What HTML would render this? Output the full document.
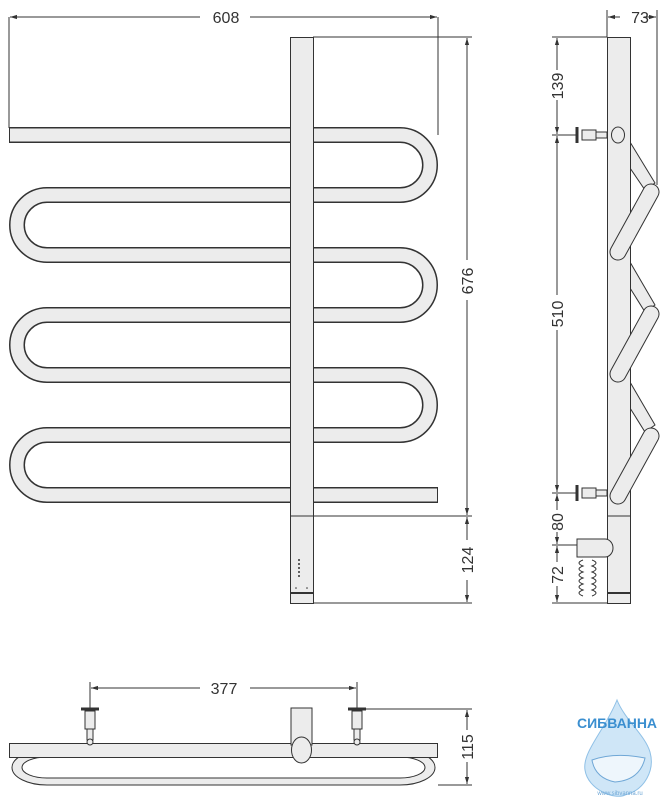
<!DOCTYPE html>
<html><head><meta charset="utf-8"><style>html,body{margin:0;padding:0;background:#fff}svg{display:block}</style></head><body>
<svg width="668" height="800" viewBox="0 0 668 800" xmlns="http://www.w3.org/2000/svg" font-family="Liberation Sans, sans-serif">
<defs>
<marker id="a" viewBox="0 0 10 10" refX="10" refY="5" markerWidth="7" markerHeight="7" orient="auto-start-reverse"><path d="M0 2L10 5L0 8z" fill="#333"/></marker>
</defs>
<g stroke="#333" stroke-width="1" fill="none">
<line x1="9" y1="17" x2="9" y2="128"/><line x1="438" y1="17" x2="438" y2="135"/>
<line x1="10" y1="17" x2="200" y2="17" marker-start="url(#a)"/><line x1="250" y1="17" x2="437" y2="17" marker-end="url(#a)"/>
<line x1="313" y1="37" x2="472" y2="37"/><line x1="313" y1="516" x2="472" y2="516"/><line x1="313" y1="603" x2="472" y2="603"/>
<line x1="467" y1="38" x2="467" y2="260" marker-start="url(#a)"/><line x1="467" y1="300" x2="467" y2="515" marker-end="url(#a)"/>
<line x1="467" y1="517" x2="467" y2="540" marker-start="url(#a)"/><line x1="467" y1="580" x2="467" y2="602" marker-end="url(#a)"/>
<line x1="607" y1="10" x2="607" y2="37"/><line x1="657" y1="10" x2="657" y2="185"/>
<line x1="608" y1="17" x2="620" y2="17" marker-start="url(#a)"/><line x1="644" y1="17" x2="656" y2="17" marker-end="url(#a)"/>
<line x1="552" y1="37" x2="607" y2="37"/><line x1="552" y1="135" x2="578" y2="135"/><line x1="552" y1="493" x2="578" y2="493"/><line x1="552" y1="545" x2="578" y2="545"/><line x1="552" y1="603" x2="607" y2="603"/>
<line x1="557" y1="38" x2="557" y2="70" marker-start="url(#a)"/><line x1="557" y1="100" x2="557" y2="134" marker-end="url(#a)"/>
<line x1="557" y1="136" x2="557" y2="295" marker-start="url(#a)"/><line x1="557" y1="330" x2="557" y2="492" marker-end="url(#a)"/>
<line x1="557" y1="494" x2="557" y2="510" marker-start="url(#a)"/><line x1="557" y1="532" x2="557" y2="544" marker-end="url(#a)"/>
<line x1="557" y1="546" x2="557" y2="562" marker-start="url(#a)"/><line x1="557" y1="586" x2="557" y2="602" marker-end="url(#a)"/>
<line x1="90" y1="682" x2="90" y2="708"/><line x1="357" y1="682" x2="357" y2="708"/>
<line x1="91" y1="688" x2="200" y2="688" marker-start="url(#a)"/><line x1="250" y1="688" x2="356" y2="688" marker-end="url(#a)"/>
<line x1="365" y1="709" x2="472" y2="709"/><line x1="438" y1="785" x2="472" y2="785"/>
<line x1="467" y1="710" x2="467" y2="730" marker-start="url(#a)"/><line x1="467" y1="762" x2="467" y2="784" marker-end="url(#a)"/>
</g>
<g fill="#333" font-size="16">
<text x="226" y="23" text-anchor="middle">608</text>
<text x="640" y="23" text-anchor="middle">73</text>
<text x="224" y="694" text-anchor="middle">377</text>
<text transform="translate(473,281) rotate(-90)" text-anchor="middle">676</text>
<text transform="translate(473,560) rotate(-90)" text-anchor="middle">124</text>
<text transform="translate(563,86) rotate(-90)" text-anchor="middle">139</text>
<text transform="translate(563,314) rotate(-90)" text-anchor="middle">510</text>
<text transform="translate(563,522) rotate(-90)" text-anchor="middle">80</text>
<text transform="translate(563,575) rotate(-90)" text-anchor="middle">72</text>
<text transform="translate(473,747) rotate(-90)" text-anchor="middle">115</text>
</g>
<path d="M9 135H400A30 30 0 0 1 400 195H47A30 30 0 0 0 47 255H400A30 30 0 0 1 400 315H47A30 30 0 0 0 47 375H400A30 30 0 0 1 400 435H47A30 30 0 0 0 47 495H438" fill="none" stroke="#333" stroke-width="16"/>
<path d="M10 135H400A30 30 0 0 1 400 195H47A30 30 0 0 0 47 255H400A30 30 0 0 1 400 315H47A30 30 0 0 0 47 375H400A30 30 0 0 1 400 435H47A30 30 0 0 0 47 495H437" fill="none" stroke="#ececec" stroke-width="13"/>
<rect x="290.5" y="37.5" width="23" height="566" fill="#ececec" stroke="#333"/>
<line x1="290" y1="516" x2="313" y2="516" stroke="#333"/><line x1="290" y1="593" x2="313" y2="593" stroke="#333" stroke-width="2"/>
<g fill="#333"><circle cx="299" cy="560" r="1"/><circle cx="299" cy="564" r="1"/><circle cx="299" cy="568" r="1"/><circle cx="299" cy="572" r="1"/><circle cx="299" cy="576" r="1"/><circle cx="296" cy="588" r="0.8"/><circle cx="307" cy="588" r="0.8"/></g>
<g stroke="#333" fill="#ececec">
<path d="M630 142L655 183L645 190L630 168Z"/>
<path d="M630 262L655 305L645 312L630 288Z"/>
<path d="M630 382L655 425L645 432L630 408Z"/>
</g>
<rect x="607.5" y="37.5" width="23" height="566" fill="#ececec" stroke="#333"/>
<line x1="607" y1="516" x2="630" y2="516" stroke="#333"/><line x1="607" y1="593" x2="630" y2="593" stroke="#333" stroke-width="2"/>
<g stroke-linecap="round" fill="none">
<path d="M651 192L618 252" stroke="#333" stroke-width="17"/><path d="M651 192L618 252" stroke="#ececec" stroke-width="15"/>
<path d="M651 314L618 374" stroke="#333" stroke-width="17"/><path d="M651 314L618 374" stroke="#ececec" stroke-width="15"/>
<path d="M651 436L618 496" stroke="#333" stroke-width="17"/><path d="M651 436L618 496" stroke="#ececec" stroke-width="15"/>
</g>
<ellipse cx="618" cy="135" rx="6.5" ry="8" fill="#ececec" stroke="#333"/>
<g fill="#ececec" stroke="#333">
<rect x="582" y="130" width="14" height="10"/><rect x="596" y="132" width="11" height="6"/><line x1="577" y1="127" x2="577" y2="143" stroke-width="3"/>
<rect x="582" y="488" width="14" height="10"/><rect x="596" y="490" width="11" height="6"/><line x1="577" y1="485" x2="577" y2="501" stroke-width="3"/>
<path d="M577 539H605A8 9 0 0 1 605 557H577Z"/>
<path d="M583 560q-8 3 0 6q-8 3 0 6q-8 3 0 6q-8 3 0 6q-8 3 0 6q-8 3 0 6M592 560q8 3 0 6q8 3 0 6q8 3 0 6q8 3 0 6q8 3 0 6q8 3 0 6" fill="none"/>
</g>
<g stroke="#333" fill="#ececec">
<path d="M47 750H400A35 17.5 0 0 1 400 785H47A35 17.5 0 0 1 47 750Z"/>
<path d="M47 757H400A25 10.5 0 0 1 400 778H47A25 10.5 0 0 1 47 757Z" fill="#fff"/>
<rect x="9.5" y="743.5" width="428" height="14"/>
<rect x="291" y="708" width="21" height="37"/>
<ellipse cx="301.5" cy="750" rx="10" ry="13"/>
<rect x="85" y="711" width="10" height="18"/><rect x="87" y="729" width="6" height="11"/><circle cx="90" cy="742" r="3"/><line x1="81" y1="709" x2="99" y2="709" stroke-width="3"/>
<rect x="352" y="711" width="10" height="18"/><rect x="354" y="729" width="6" height="11"/><circle cx="357" cy="742" r="3"/><line x1="348" y1="709" x2="366" y2="709" stroke-width="3"/>
</g>
<path d="M617 700C605 730 582 752 585 770C588 790 615 800 625 795C645 790 655 770 650 752C645 735 625 720 617 700Z" fill="#cfe6f7" stroke="#8fc0e6"/>
<path d="M592 760Q615 752 645 758Q640 780 615 782Q595 778 592 760Z" fill="#eef6fc" stroke="#6fa7d6"/>
<text x="617" y="728" text-anchor="middle" font-size="14" font-weight="bold" fill="#3b8fd0">СИБВАННА</text>
<text x="620" y="795" text-anchor="middle" font-size="6" fill="#6fa7d6">www.sibvanna.ru</text>
</svg>
</body></html>
